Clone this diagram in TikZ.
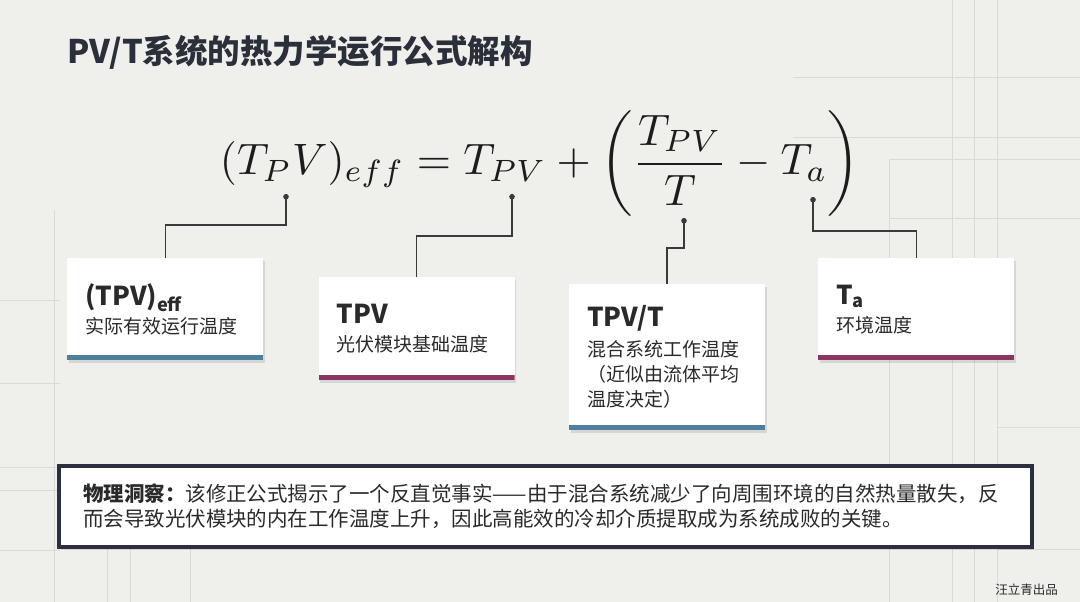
\documentclass[tikz,border=0pt]{standalone}
\usepackage{fontspec}
\usepackage{graphicx}
\usepackage{xcolor}
\usepackage{tikz}
\usetikzlibrary{arrows.meta, positioning, shadows}

\newfontfamily\cjk{Noto Sans CJK SC}
\newcommand{\cardhead}[1]{{\bfseries\fontsize{26}{30}\selectfont #1}}

\definecolor{bgC}{HTML}{EFF0EC}
\definecolor{bglineC}{HTML}{D8DAD6}
\definecolor{titleC}{HTML}{2B2F3A}
\definecolor{eqC}{HTML}{1C1C1C}
\definecolor{txtC}{HTML}{2A2A2A}
\definecolor{lineC}{HTML}{3A3A3A}
\definecolor{barblue}{HTML}{4E809E}
\definecolor{barmag}{HTML}{8A3560}
\definecolor{navyC}{HTML}{2B2F40}

\begin{document}
\begin{tikzpicture}[
    x=1pt, y=1pt,
    >=Stealth,
    card/.style={rectangle, fill=white, text width=160pt, inner xsep=18pt, inner ysep=0pt, minimum width=196pt, align=left, font=\cjk\fontsize{19}{25}\selectfont, text=txtC, drop shadow={shadow xshift=1.5pt, shadow yshift=-2.5pt, opacity=0.22}, path picture={\fill[#1] (path picture bounding box.south west) rectangle ([yshift=5pt]path picture bounding box.south east);}},
    card/.default=barblue,
    insight/.style={rectangle, draw=navyC, line width=4pt, fill=white, text width=925pt, inner xsep=24pt, minimum height=81pt, align=left, font=\cjk\fontsize{20.5}{25}\selectfont, text=txtC, drop shadow={shadow xshift=2pt, shadow yshift=-3pt, opacity=0.25}},
    conn/.style={draw=lineC, line width=1.4pt, {Circle[length=5.5pt]}-},
    bgline/.style={draw=bglineC, line width=0.8pt}
]

% background and faint guide lines
\fill[bgC] (0,0) rectangle (1080,602);
\useasboundingbox (0,0) rectangle (1080,602);
\draw[bgline] (793,525) -- (1080,525);
\draw[bgline] (793,465) -- (1080,465);
\draw[bgline] (889,443) -- (1080,443);
\draw[bgline] (889,384) -- (1080,384);
\draw[bgline] (889,443) -- (889,0);
\foreach \gx in {952,974,997}
    \draw[bgline] (\gx,602) -- (\gx,0);
\draw[bgline] (997,175) -- (1080,175);
\draw[bgline] (997,53) -- (1080,53);
\draw[bgline] (54,392) -- (54,0);
\foreach \gy in {302,219,135,112,52}
    \draw[bgline] (0,\gy) -- (60,\gy);
\foreach \gx in {107,130,190}
    \draw[bgline] (\gx,53) -- (\gx,0);

% Title
\node[anchor=base west, inner sep=0pt, font=\cjk\bfseries\fontsize{32.5}{38}\selectfont, text=titleC] (title) at (67,538) {PV/T系统的热力学运行公式解构};

% Formula
\node[inner sep=0pt, text=eqC] (eq) at (540,438)
    {\scalebox{4.4}{$\displaystyle (T_P V)_{eff} = T_{PV} + \left(\frac{T_{PV}}{T} - T_a\right)$}};

% Cards
\node[card=barblue, minimum height=102pt, anchor=north west] (b1) at (67,344)
    {\cardhead{(TPV)\textsubscript{eff}}\\[3pt] 实际有效运行温度};
\node[card=barmag, minimum height=103pt, below right=19pt and 55pt of b1.north east] (b2)
    {\cardhead{TPV}\\[3pt] 光伏模块基础温度};
\node[card=barblue, minimum height=146pt, below right=7pt and 54pt of b2.north east] (b3)
    {\cardhead{TPV/T}\\[5pt] 混合系统工作温度\\（近似由流体平均\\温度决定）};
\node[card=barmag, minimum height=102pt, anchor=north west] (b4) at (818,344)
    {\cardhead{T\textsubscript{a}}\\[3pt] 环境温度};

% Pointers from the formula terms
\coordinate (dP) at (286,408);
\coordinate (dPV) at (512,408);
\coordinate (dT) at (684,384);
\coordinate (dA) at (813,405);
\draw[conn] (dP) -- ++(0,-31) -| (b1.north);
\draw[conn] (dPV) -- ++(0,-42) -| (b2.north);
\draw[conn] (dT) -- ++(0,-30) -| (b3.north);
\draw[conn] (dA) -- ++(0,-34) -| (b4.north);

% Insight box
\node[insight] (note) at (545.5,95.5)
    {\textbf{物理洞察：}该修正公式揭示了一个反直觉事实——由于混合系统减少了向周围环境的自然热量散失，反\\而会导致光伏模块的内在工作温度上升，因此高能效的冷却介质提取成为系统成败的关键。};

% Credit
\node[anchor=east, inner sep=0pt, font=\cjk\fontsize{12.5}{14}\selectfont, text=txtC] (mark) at (1058,12) {汪立青出品};

\end{tikzpicture}
\end{document}
